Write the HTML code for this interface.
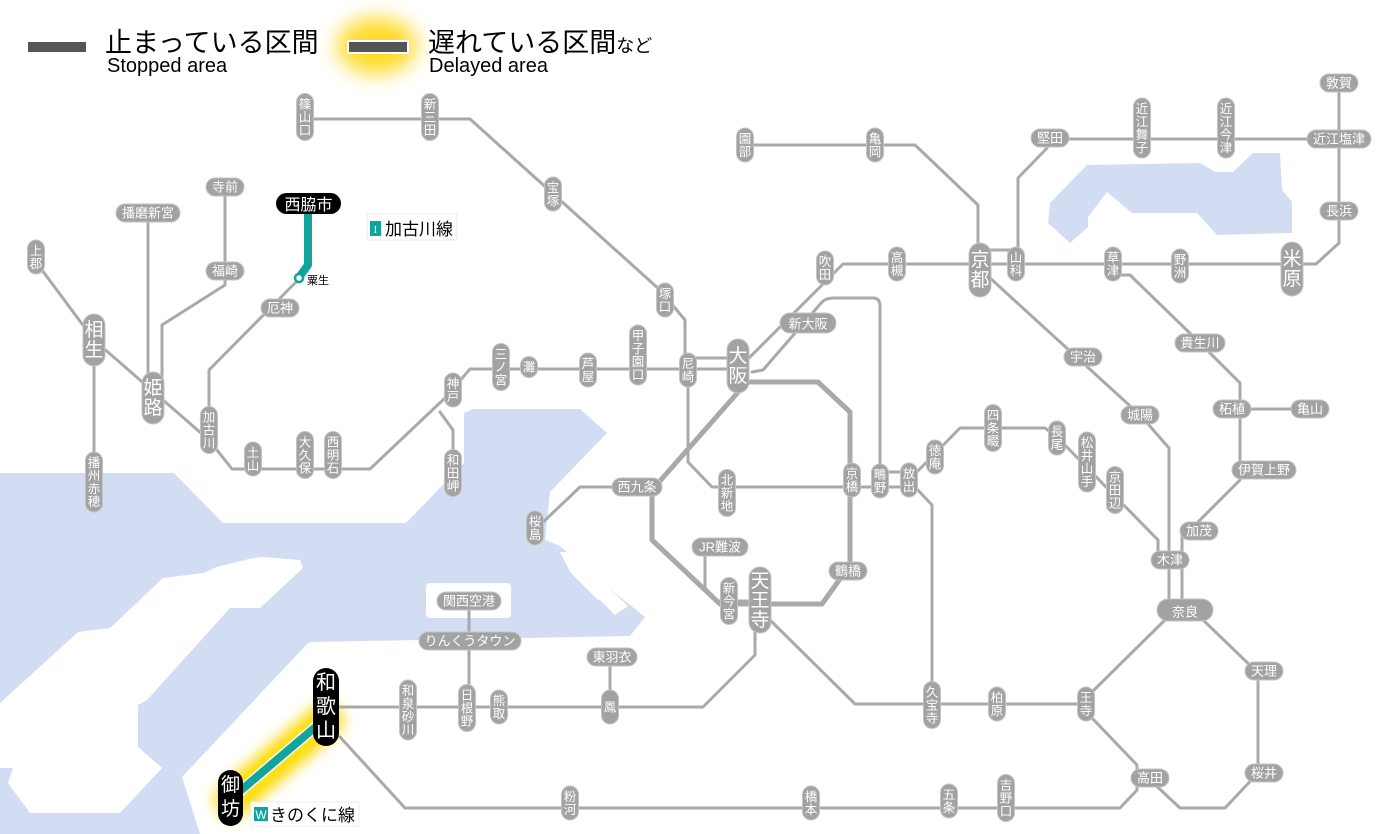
<!DOCTYPE html>
<html><head><meta charset="utf-8"><style>
html,body{margin:0;padding:0;background:#fff;}
svg{display:block;font-family:"Liberation Sans","Noto Sans CJK JP",sans-serif;}
.l{fill:none;stroke:#a9a9a9;stroke-width:3;stroke-linejoin:round;stroke-linecap:round;}
.lt{fill:none;stroke:#a9a9a9;stroke-width:5;stroke-linejoin:round;}
.s rect{fill:#a2a2a2;stroke:#c4c4c4;stroke-width:1;}
.s text{fill:#fff;font-size:13px;text-anchor:middle;}
.s text.v{font-size:12.5px;}
.b rect{fill:#a2a2a2;stroke:#c4c4c4;stroke-width:1;}
.b text{fill:#fff;font-size:19px;text-anchor:middle;}
.k rect{fill:#000;}
.k text{fill:#fff;text-anchor:middle;}
</style></head><body>
<svg width="1400" height="834" viewBox="0 0 1400 834" xmlns="http://www.w3.org/2000/svg">
<defs>
<filter id="bl" x="-50%" y="-50%" width="200%" height="200%"><feGaussianBlur stdDeviation="7"/></filter>
<filter id="bl2" x="-50%" y="-50%" width="200%" height="200%"><feGaussianBlur stdDeviation="10"/></filter>
</defs>
<!-- water -->
<g fill="#d2dcf3">
<polygon points="0,473 174,473 223,523 406,523 464,463 464,413 473,409 580,409 607,433 550,492 545,540 560,546 605,585 645,617 630,636 312,642 308,643 182,777 200,834 0,834"/>
<polygon points="1048,223 1050,203 1087,165 1200,163 1215,172 1233,172 1253,153 1280,153 1282,190 1292,202 1292,233 1217,235 1197,213 1132,213 1107,192 1088,217 1088,227 1070,243"/>
</g>
<g fill="#fff">
<polygon points="0,703 78,632 110,628 163,578 203,573 217,567 253,558 263,557 300,560 303,568 260,608 230,608 147,700 138,705 138,747 162,768 120,813 30,813 8,783 13,768 0,768"/>
<rect x="426" y="583" width="85" height="35" rx="4"/>
<polygon points="560,552 585,552 610,578 612,598 598,600 570,572"/>
<polygon points="585,585 600,580 628,606 615,615"/>
</g>
<!-- glow for kinokuni -->
<line x1="326" y1="720" x2="232" y2="800" stroke="#ffd800" stroke-width="34" filter="url(#bl)" stroke-linecap="round"/>
<line x1="326" y1="720" x2="232" y2="800" stroke="#ffe21a" stroke-width="22" stroke-linecap="round" opacity="0.8"/>
<line x1="326" y1="718" x2="232" y2="798" stroke="#fff" stroke-width="11"/>
<line x1="326" y1="718" x2="232" y2="798" stroke="#12a39a" stroke-width="8"/>
<!-- legend -->
<rect x="28" y="42" width="58" height="10" fill="#555"/>
<text x="105" y="52" font-size="27" fill="#000">止まっている区間</text>
<text x="107" y="72" font-size="20" fill="#000">Stopped area</text>
<ellipse cx="377" cy="46" rx="40" ry="28" fill="#ffd400" filter="url(#bl2)" opacity="0.85"/>
<rect x="347" y="40" width="62" height="14" fill="#fff"/>
<rect x="349" y="42" width="58" height="10" fill="#555"/>
<text x="428" y="52" font-size="27" fill="#000">遅れている区間<tspan font-size="18">など</tspan></text>
<text x="429" y="72" font-size="20" fill="#000">Delayed area</text>
<!-- lines -->
<g class="l">
<path d="M305,119 H470 L660,290 L685,320 V372"/>
<path d="M209,440 L232,469 H370 L445,398 L470,369 H740"/>
<path d="M688,358 H740"/>
<path d="M440,412 L453,430 V470"/>
<path d="M36,262 L94,340 L209,440"/>
<path d="M94,340 V482"/>
<path d="M148,213 V398"/>
<path d="M225,187 V285 L162,325 V398"/>
<path d="M298,280 L209,370 V430"/>
<path d="M745,145 H915 L978,205 V270"/>
<path d="M1047,148 L1018,178 V264"/>
<path d="M980,250 H1016"/>
<path d="M1050,139 H1339"/>
<path d="M1339,83 V243 L1316,264"/>
<path d="M745,362 L827,280 L843,264 H1316"/>
<path d="M752,372 L763,370 L822,302 Q826,298 834,298 H873 Q880,298 880,306 V481"/>
<path d="M688,372 V462 L712,487 H909"/>
<path d="M880,472 H909"/>
<path d="M637,487 H580 L540,525"/>
<path d="M705,547 V588 L718,601 H760"/>
<path d="M909,480 L960,428 H1045 L1060,440 L1158,540 V560"/>
<path d="M915,487 L932,505 V705"/>
<path d="M770,620 L855,704 H1086"/>
<path d="M1092,692 L1170,615"/>
<path d="M990,278 L1140,415 L1169,448 V610"/>
<path d="M1120,275 H1130 L1200,343 L1240,383 V470"/>
<path d="M1240,409 H1310"/>
<path d="M1240,480 L1193,527 L1182,537 V610"/>
<path d="M1200,617 L1258,673 V773 L1225,808 H1180 L1150,780"/>
<path d="M1092,718 L1137,765 V790 L1120,808 H405 L340,737"/>
<path d="M340,707 H703 L755,655 V620"/>
<path d="M610,707 V657"/>
<path d="M469,601 V708"/>
</g>
<path class="lt" d="M748,382 H818 L850,412 V565 L822,604 H720 L652,540 V490 L740,390"/>
<!-- teal kakogawa -->
<path d="M308,210 V265 L300,276" fill="none" stroke="#12a39a" stroke-width="8" stroke-linejoin="round"/>
<circle cx="299" cy="278" r="4" fill="#fff" stroke="#12a39a" stroke-width="2.5"/>
<text x="307" y="284" font-size="11" fill="#000">粟生</text>
<!-- labels -->
<rect x="367" y="214" width="90" height="26" fill="#fff" stroke="#eee"/>
<rect x="370" y="221" width="11" height="15" fill="#12a39a"/>
<text x="375.5" y="233" font-size="11" fill="#fff" text-anchor="middle" font-family="Liberation Serif">I</text>
<text x="385" y="235" font-size="17" fill="#000">加古川線</text>
<rect x="251" y="802" width="108" height="24" fill="#fff" stroke="#eee"/>
<rect x="254" y="807" width="14" height="14" fill="#12a39a"/>
<text x="261" y="819" font-size="12" fill="#fff" text-anchor="middle">W</text>
<text x="270" y="821" font-size="17" fill="#000">きのくに線</text>
<!-- black stations -->
<g class="k">
<rect x="276" y="193" width="65" height="21" rx="10.5"/>
<text x="308.5" y="210" font-size="16">西脇市</text>
<rect x="313" y="668" width="26" height="78" rx="13"/>
<text font-size="20"><tspan x="326" y="689">和</tspan><tspan x="326" y="713">歌</tspan><tspan x="326" y="737">山</tspan></text>
<rect x="218" y="770" width="25" height="56" rx="12.5"/>
<text font-size="19"><tspan x="230.5" y="791">御</tspan><tspan x="230.5" y="815">坊</tspan></text>
</g>
<!-- small vertical stations -->
<g class="s">
<g transform="translate(305,117)"><rect x="-8.5" y="-23.5" width="17" height="47" rx="8.5"/><text class="v"><tspan x="0" y="-8.5">篠</tspan><tspan x="0" y="4.5">山</tspan><tspan x="0" y="17.5">口</tspan></text></g>
<g transform="translate(430,117)"><rect x="-8.5" y="-23.5" width="17" height="47" rx="8.5"/><text class="v"><tspan x="0" y="-8.5">新</tspan><tspan x="0" y="4.5">三</tspan><tspan x="0" y="17.5">田</tspan></text></g>
<g transform="translate(553,194)"><rect x="-8.5" y="-17" width="17" height="34" rx="8.5"/><text class="v"><tspan x="0" y="-2">宝</tspan><tspan x="0" y="11">塚</tspan></text></g>
<g transform="translate(665,300)"><rect x="-8.5" y="-17" width="17" height="34" rx="8.5"/><text class="v"><tspan x="0" y="-2">塚</tspan><tspan x="0" y="11">口</tspan></text></g>
<g transform="translate(36,257)"><rect x="-8.5" y="-17" width="17" height="34" rx="8.5"/><text class="v"><tspan x="0" y="-2">上</tspan><tspan x="0" y="11">郡</tspan></text></g>
<g transform="translate(209,430)"><rect x="-8.5" y="-23.5" width="17" height="47" rx="8.5"/><text class="v"><tspan x="0" y="-8.5">加</tspan><tspan x="0" y="4.5">古</tspan><tspan x="0" y="17.5">川</tspan></text></g>
<g transform="translate(253,459)"><rect x="-8.5" y="-17" width="17" height="34" rx="8.5"/><text class="v"><tspan x="0" y="-2">土</tspan><tspan x="0" y="11">山</tspan></text></g>
<g transform="translate(305,455)"><rect x="-8.5" y="-23.5" width="17" height="47" rx="8.5"/><text class="v"><tspan x="0" y="-8.5">大</tspan><tspan x="0" y="4.5">久</tspan><tspan x="0" y="17.5">保</tspan></text></g>
<g transform="translate(333,455)"><rect x="-8.5" y="-23.5" width="17" height="47" rx="8.5"/><text class="v"><tspan x="0" y="-8.5">西</tspan><tspan x="0" y="4.5">明</tspan><tspan x="0" y="17.5">石</tspan></text></g>
<g transform="translate(453,390)"><rect x="-8.5" y="-17" width="17" height="34" rx="8.5"/><text class="v"><tspan x="0" y="-2">神</tspan><tspan x="0" y="11">戸</tspan></text></g>
<g transform="translate(453,473)"><rect x="-8.5" y="-23.5" width="17" height="47" rx="8.5"/><text class="v"><tspan x="0" y="-8.5">和</tspan><tspan x="0" y="4.5">田</tspan><tspan x="0" y="17.5">岬</tspan></text></g>
<g transform="translate(501,367)"><rect x="-8.5" y="-23.5" width="17" height="47" rx="8.5"/><text class="v"><tspan x="0" y="-8.5">三</tspan><tspan x="0" y="4.5">ノ</tspan><tspan x="0" y="17.5">宮</tspan></text></g>
<g transform="translate(529,367)"><rect x="-8.5" y="-10.5" width="17" height="21" rx="8.5"/><text class="v"><tspan x="0" y="4.5">灘</tspan></text></g>
<g transform="translate(588,370)"><rect x="-8.5" y="-17" width="17" height="34" rx="8.5"/><text class="v"><tspan x="0" y="-2">芦</tspan><tspan x="0" y="11">屋</tspan></text></g>
<g transform="translate(638,355)"><rect x="-8.5" y="-30" width="17" height="60" rx="8.5"/><text class="v"><tspan x="0" y="-15">甲</tspan><tspan x="0" y="-2">子</tspan><tspan x="0" y="11">園</tspan><tspan x="0" y="24">口</tspan></text></g>
<g transform="translate(688,370)"><rect x="-8.5" y="-17" width="17" height="34" rx="8.5"/><text class="v"><tspan x="0" y="-2">尼</tspan><tspan x="0" y="11">崎</tspan></text></g>
<g transform="translate(94,482)"><rect x="-8.5" y="-30" width="17" height="60" rx="8.5"/><text class="v"><tspan x="0" y="-15">播</tspan><tspan x="0" y="-2">州</tspan><tspan x="0" y="11">赤</tspan><tspan x="0" y="24">穂</tspan></text></g>
<g transform="translate(745,145)"><rect x="-8.5" y="-17" width="17" height="34" rx="8.5"/><text class="v"><tspan x="0" y="-2">園</tspan><tspan x="0" y="11">部</tspan></text></g>
<g transform="translate(875,145)"><rect x="-8.5" y="-17" width="17" height="34" rx="8.5"/><text class="v"><tspan x="0" y="-2">亀</tspan><tspan x="0" y="11">岡</tspan></text></g>
<g transform="translate(1016,264)"><rect x="-8.5" y="-17" width="17" height="34" rx="8.5"/><text class="v"><tspan x="0" y="-2">山</tspan><tspan x="0" y="11">科</tspan></text></g>
<g transform="translate(1142,128)"><rect x="-8.5" y="-30" width="17" height="60" rx="8.5"/><text class="v"><tspan x="0" y="-15">近</tspan><tspan x="0" y="-2">江</tspan><tspan x="0" y="11">舞</tspan><tspan x="0" y="24">子</tspan></text></g>
<g transform="translate(1226,128)"><rect x="-8.5" y="-30" width="17" height="60" rx="8.5"/><text class="v"><tspan x="0" y="-15">近</tspan><tspan x="0" y="-2">江</tspan><tspan x="0" y="11">今</tspan><tspan x="0" y="24">津</tspan></text></g>
<g transform="translate(825,268)"><rect x="-8.5" y="-17" width="17" height="34" rx="8.5"/><text class="v"><tspan x="0" y="-2">吹</tspan><tspan x="0" y="11">田</tspan></text></g>
<g transform="translate(897,264)"><rect x="-8.5" y="-17" width="17" height="34" rx="8.5"/><text class="v"><tspan x="0" y="-2">高</tspan><tspan x="0" y="11">槻</tspan></text></g>
<g transform="translate(1113,264)"><rect x="-8.5" y="-17" width="17" height="34" rx="8.5"/><text class="v"><tspan x="0" y="-2">草</tspan><tspan x="0" y="11">津</tspan></text></g>
<g transform="translate(1180,266)"><rect x="-8.5" y="-17" width="17" height="34" rx="8.5"/><text class="v"><tspan x="0" y="-2">野</tspan><tspan x="0" y="11">洲</tspan></text></g>
<g transform="translate(852,480)"><rect x="-8.5" y="-17" width="17" height="34" rx="8.5"/><text class="v"><tspan x="0" y="-2">京</tspan><tspan x="0" y="11">橋</tspan></text></g>
<g transform="translate(729,601)"><rect x="-8.5" y="-23.5" width="17" height="47" rx="8.5"/><text class="v"><tspan x="0" y="-8.5">新</tspan><tspan x="0" y="4.5">今</tspan><tspan x="0" y="17.5">宮</tspan></text></g>
<g transform="translate(727,493)"><rect x="-8.5" y="-23.5" width="17" height="47" rx="8.5"/><text class="v"><tspan x="0" y="-8.5">北</tspan><tspan x="0" y="4.5">新</tspan><tspan x="0" y="17.5">地</tspan></text></g>
<g transform="translate(880,481)"><rect x="-8.5" y="-17" width="17" height="34" rx="8.5"/><text class="v"><tspan x="0" y="-2">鴫</tspan><tspan x="0" y="11">野</tspan></text></g>
<g transform="translate(909,480)"><rect x="-8.5" y="-17" width="17" height="34" rx="8.5"/><text class="v"><tspan x="0" y="-2">放</tspan><tspan x="0" y="11">出</tspan></text></g>
<g transform="translate(535,528)"><rect x="-8.5" y="-17" width="17" height="34" rx="8.5"/><text class="v"><tspan x="0" y="-2">桜</tspan><tspan x="0" y="11">島</tspan></text></g>
<g transform="translate(935,457)"><rect x="-8.5" y="-17" width="17" height="34" rx="8.5"/><text class="v"><tspan x="0" y="-2">徳</tspan><tspan x="0" y="11">庵</tspan></text></g>
<g transform="translate(993,428)"><rect x="-8.5" y="-23.5" width="17" height="47" rx="8.5"/><text class="v"><tspan x="0" y="-8.5">四</tspan><tspan x="0" y="4.5">条</tspan><tspan x="0" y="17.5">畷</tspan></text></g>
<g transform="translate(1057,438)"><rect x="-8.5" y="-17" width="17" height="34" rx="8.5"/><text class="v"><tspan x="0" y="-2">長</tspan><tspan x="0" y="11">尾</tspan></text></g>
<g transform="translate(1087,462)"><rect x="-8.5" y="-30" width="17" height="60" rx="8.5"/><text class="v"><tspan x="0" y="-15">松</tspan><tspan x="0" y="-2">井</tspan><tspan x="0" y="11">山</tspan><tspan x="0" y="24">手</tspan></text></g>
<g transform="translate(1115,490)"><rect x="-8.5" y="-23.5" width="17" height="47" rx="8.5"/><text class="v"><tspan x="0" y="-8.5">京</tspan><tspan x="0" y="4.5">田</tspan><tspan x="0" y="17.5">辺</tspan></text></g>
<g transform="translate(932,705)"><rect x="-8.5" y="-23.5" width="17" height="47" rx="8.5"/><text class="v"><tspan x="0" y="-8.5">久</tspan><tspan x="0" y="4.5">宝</tspan><tspan x="0" y="17.5">寺</tspan></text></g>
<g transform="translate(997,704)"><rect x="-8.5" y="-17" width="17" height="34" rx="8.5"/><text class="v"><tspan x="0" y="-2">柏</tspan><tspan x="0" y="11">原</tspan></text></g>
<g transform="translate(1086,704)"><rect x="-8.5" y="-17" width="17" height="34" rx="8.5"/><text class="v"><tspan x="0" y="-2">王</tspan><tspan x="0" y="11">寺</tspan></text></g>
<g transform="translate(1006,798)"><rect x="-8.5" y="-23.5" width="17" height="47" rx="8.5"/><text class="v"><tspan x="0" y="-8.5">吉</tspan><tspan x="0" y="4.5">野</tspan><tspan x="0" y="17.5">口</tspan></text></g>
<g transform="translate(949,801)"><rect x="-8.5" y="-17" width="17" height="34" rx="8.5"/><text class="v"><tspan x="0" y="-2">五</tspan><tspan x="0" y="11">条</tspan></text></g>
<g transform="translate(811,803)"><rect x="-8.5" y="-17" width="17" height="34" rx="8.5"/><text class="v"><tspan x="0" y="-2">橋</tspan><tspan x="0" y="11">本</tspan></text></g>
<g transform="translate(570,803)"><rect x="-8.5" y="-17" width="17" height="34" rx="8.5"/><text class="v"><tspan x="0" y="-2">粉</tspan><tspan x="0" y="11">河</tspan></text></g>
<g transform="translate(408,710)"><rect x="-8.5" y="-30" width="17" height="60" rx="8.5"/><text class="v"><tspan x="0" y="-15">和</tspan><tspan x="0" y="-2">泉</tspan><tspan x="0" y="11">砂</tspan><tspan x="0" y="24">川</tspan></text></g>
<g transform="translate(467,708)"><rect x="-8.5" y="-23.5" width="17" height="47" rx="8.5"/><text class="v"><tspan x="0" y="-8.5">日</tspan><tspan x="0" y="4.5">根</tspan><tspan x="0" y="17.5">野</tspan></text></g>
<g transform="translate(499,707)"><rect x="-8.5" y="-17" width="17" height="34" rx="8.5"/><text class="v"><tspan x="0" y="-2">熊</tspan><tspan x="0" y="11">取</tspan></text></g>
<g transform="translate(610,707)"><rect x="-8.5" y="-17" width="17" height="34" rx="8.5"/><text class="v"><tspan x="0" y="4.5">鳳</tspan></text></g>
<!-- horizontal -->
<g transform="translate(225,187)"><rect x="-19" y="-9" width="38" height="18" rx="9"/><text y="4.5">寺前</text></g>
<g transform="translate(148,213)"><rect x="-32" y="-9" width="64" height="18" rx="9"/><text y="4.5">播磨新宮</text></g>
<g transform="translate(225,271)"><rect x="-19" y="-9" width="38" height="18" rx="9"/><text y="4.5">福崎</text></g>
<g transform="translate(280,308)"><rect x="-19" y="-9" width="38" height="18" rx="9"/><text y="4.5">厄神</text></g>
<g transform="translate(1050,138)"><rect x="-19" y="-9" width="38" height="18" rx="9"/><text y="4.5">堅田</text></g>
<g transform="translate(1339,83)"><rect x="-19" y="-9" width="38" height="18" rx="9"/><text y="4.5">敦賀</text></g>
<g transform="translate(1339,139)"><rect x="-32" y="-9" width="64" height="18" rx="9"/><text y="4.5">近江塩津</text></g>
<g transform="translate(1339,211)"><rect x="-19" y="-9" width="38" height="18" rx="9"/><text y="4.5">長浜</text></g>
<g transform="translate(1083,357)"><rect x="-19" y="-9" width="38" height="18" rx="9"/><text y="4.5">宇治</text></g>
<g transform="translate(1200,343)"><rect x="-25" y="-9" width="50" height="18" rx="9"/><text y="4.5">貴生川</text></g>
<g transform="translate(1140,415)"><rect x="-19" y="-9" width="38" height="18" rx="9"/><text y="4.5">城陽</text></g>
<g transform="translate(1232,409)"><rect x="-19" y="-9" width="38" height="18" rx="9"/><text y="4.5">柘植</text></g>
<g transform="translate(1310,409)"><rect x="-19" y="-9" width="38" height="18" rx="9"/><text y="4.5">亀山</text></g>
<g transform="translate(1264,470)"><rect x="-32" y="-9" width="64" height="18" rx="9"/><text y="4.5">伊賀上野</text></g>
<g transform="translate(1199,531)"><rect x="-19" y="-9" width="38" height="18" rx="9"/><text y="4.5">加茂</text></g>
<g transform="translate(1170,560)"><rect x="-19" y="-9" width="38" height="18" rx="9"/><text y="4.5">木津</text></g>
<g transform="translate(1264,671)"><rect x="-19" y="-9" width="38" height="18" rx="9"/><text y="4.5">天理</text></g>
<g transform="translate(1264,773)"><rect x="-19" y="-9" width="38" height="18" rx="9"/><text y="4.5">桜井</text></g>
<g transform="translate(1150,778)"><rect x="-19" y="-9" width="38" height="18" rx="9"/><text y="4.5">高田</text></g>
<g transform="translate(637,487)"><rect x="-25" y="-9" width="50" height="18" rx="9"/><text y="4.5">西九条</text></g>
<g transform="translate(720,547)"><rect x="-28" y="-9" width="56" height="18" rx="9"/><text y="4.5">JR難波</text></g>
<g transform="translate(848,571)"><rect x="-19" y="-9" width="38" height="18" rx="9"/><text y="4.5">鶴橋</text></g>
<g transform="translate(612,657)"><rect x="-25" y="-9" width="50" height="18" rx="9"/><text y="4.5">東羽衣</text></g>
<g transform="translate(470,641)"><rect x="-51" y="-9" width="102" height="18" rx="9"/><text y="4.5">りんくうタウン</text></g>
<g transform="translate(469,601)"><rect x="-32" y="-9" width="64" height="18" rx="9"/><text y="4.5">関西空港</text></g>
<g transform="translate(808,323)"><rect x="-28" y="-10" width="56" height="20" rx="10"/><text y="5.5" font-size="15">新大阪</text></g>
<g transform="translate(1185,610)"><rect x="-28" y="-11" width="56" height="22" rx="11"/><text y="6.5" font-size="18">奈良</text></g>
</g>
<!-- big vertical -->
<g class="b">
<g transform="translate(94,340)"><rect x="-11" y="-26" width="22" height="52" rx="11"/><text><tspan x="0" y="-4">相</tspan><tspan x="0" y="16">生</tspan></text></g>
<g transform="translate(153,398)"><rect x="-11" y="-26" width="22" height="52" rx="11"/><text><tspan x="0" y="-4">姫</tspan><tspan x="0" y="16">路</tspan></text></g>
<g transform="translate(738,366)"><rect x="-11" y="-27" width="22" height="54" rx="11"/><text><tspan x="0" y="-4">大</tspan><tspan x="0" y="16">阪</tspan></text></g>
<g transform="translate(980,270)"><rect x="-11" y="-27" width="22" height="54" rx="11"/><text><tspan x="0" y="-4">京</tspan><tspan x="0" y="16">都</tspan></text></g>
<g transform="translate(1292,269)"><rect x="-11" y="-27" width="22" height="54" rx="11"/><text><tspan x="0" y="-4">米</tspan><tspan x="0" y="16">原</tspan></text></g>
<g transform="translate(760,600)"><rect x="-11" y="-33" width="22" height="66" rx="11"/><text><tspan x="0" y="-13">天</tspan><tspan x="0" y="6.5">王</tspan><tspan x="0" y="26">寺</tspan></text></g>
</g>
</svg>
</body></html>
